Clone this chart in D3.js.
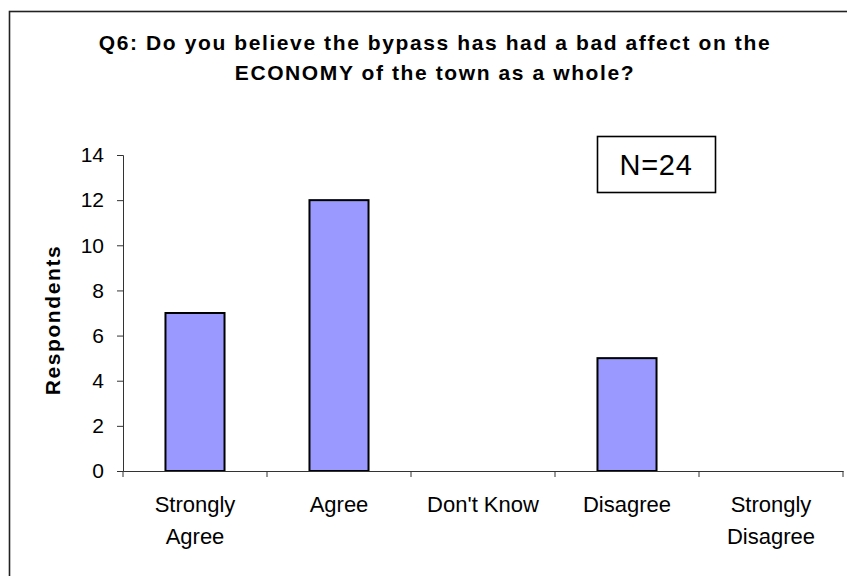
<!DOCTYPE html>
<html>
<head>
<meta charset="utf-8">
<script src="https://cdn.jsdelivr.net/npm/d3@7"></script>
<style>
  html, body { margin: 0; padding: 0; background: #fff; }
  svg { display: block; font-family: "Liberation Sans", Arial, sans-serif; }
</style>
</head>
<body>
<svg id="chart" width="847" height="576"></svg>
<script>
const titleLines = ["Q6: Do you believe the bypass has had a bad affect on the",
                    "ECONOMY of the town as a whole?"];
const categories = ["Strongly Agree", "Agree", "Don't Know", "Disagree", "Strongly Disagree"];
const categoryLines = [["Strongly", "Agree"], ["Agree"], ["Don't Know"], ["Disagree"], ["Strongly", "Disagree"]];
const respondents = [7, 12, 0, 5, 0];
const yTicks = [0, 2, 4, 6, 8, 10, 12, 14];
const yLabel = "Respondents";
const noteText = "N=24";

const svg = d3.select("#chart");

// outer frame (runs off the right and bottom edges)
svg.append("rect")
  .attr("x", 9.5).attr("y", 11.5)
  .attr("width", 880).attr("height", 620)
  .attr("fill", "#fff").attr("stroke", "#222").attr("stroke-width", 1.6);

// title
svg.append("g").selectAll("text").data(titleLines).join("text")
  .attr("x", 435).attr("y", (d, i) => 50 + i * 30)
  .attr("text-anchor", "middle")
  .attr("font-size", 21).attr("font-weight", "bold")
  .attr("letter-spacing", 1.6)
  .attr("fill", "#000")
  .text(d => d);

const x = d3.scaleBand().domain(categories).range([123, 843])
  .paddingInner(0.59).paddingOuter(0.295);
const y = d3.scaleLinear().domain([0, 14]).range([471, 155]);

// bars
svg.append("g").selectAll("rect").data(categories.map((c, i) => ({c, v: respondents[i]})))
  .join("rect")
  .filter(d => d.v > 0)
  .attr("x", d => x(d.c)).attr("y", d => y(d.v))
  .attr("width", x.bandwidth()).attr("height", d => y(0) - y(d.v))
  .attr("fill", "#9999FF").attr("stroke", "#000").attr("stroke-width", 2);

// y axis
const yAxis = svg.append("g").attr("transform", "translate(123,0)")
  .call(d3.axisLeft(y).tickValues(yTicks).tickSize(6).tickPadding(13).tickFormat(d3.format("d")));
yAxis.select(".domain").attr("stroke", "#333");
yAxis.selectAll(".tick line").attr("stroke", "#333");
yAxis.selectAll(".tick text").attr("font-size", 21).attr("fill", "#000")
  .attr("font-family", "Liberation Sans, Arial, sans-serif");

// x axis (labels from band centers, ticks at category boundaries)
const xAxis = svg.append("g").attr("transform", "translate(0,471)")
  .call(d3.axisBottom(x).tickSize(0).tickFormat(""));
xAxis.select(".domain").attr("stroke", "#333");
const step = x.step();
const gap = (step - x.bandwidth()) / 2;
const bounds = categories.map(c => x(c) - gap).concat([x(categories[categories.length - 1]) + x.bandwidth() + gap]);
xAxis.append("g").selectAll("line").data(bounds).join("line")
  .attr("x1", d => d).attr("x2", d => d).attr("y1", 0).attr("y2", 6)
  .attr("stroke", "#333");
const catG = svg.append("g");
categories.forEach((c, i) => {
  const t = catG.append("text")
    .attr("x", x(c) + x.bandwidth() / 2)
    .attr("y", 512)
    .attr("text-anchor", "middle")
    .attr("font-size", 22).attr("fill", "#000");
  categoryLines[i].forEach((ln, j) => {
    t.append("tspan").attr("x", x(c) + x.bandwidth() / 2).attr("dy", j === 0 ? 0 : 32).text(ln);
  });
});

// y label
svg.append("text")
  .attr("transform", "translate(60,320) rotate(-90)")
  .attr("text-anchor", "middle")
  .attr("font-size", 21).attr("font-weight", "bold").attr("letter-spacing", 1.6)
  .attr("fill", "#000")
  .text(yLabel);

// N box
svg.append("rect")
  .attr("x", 597.5).attr("y", 136.5).attr("width", 118).attr("height", 56)
  .attr("fill", "#fff").attr("stroke", "#000").attr("stroke-width", 1.6);
svg.append("text")
  .attr("x", 656).attr("y", 175)
  .attr("text-anchor", "middle")
  .attr("font-size", 29).attr("letter-spacing", 0.7).attr("fill", "#000")
  .text(noteText);
</script>
</body>
</html>
